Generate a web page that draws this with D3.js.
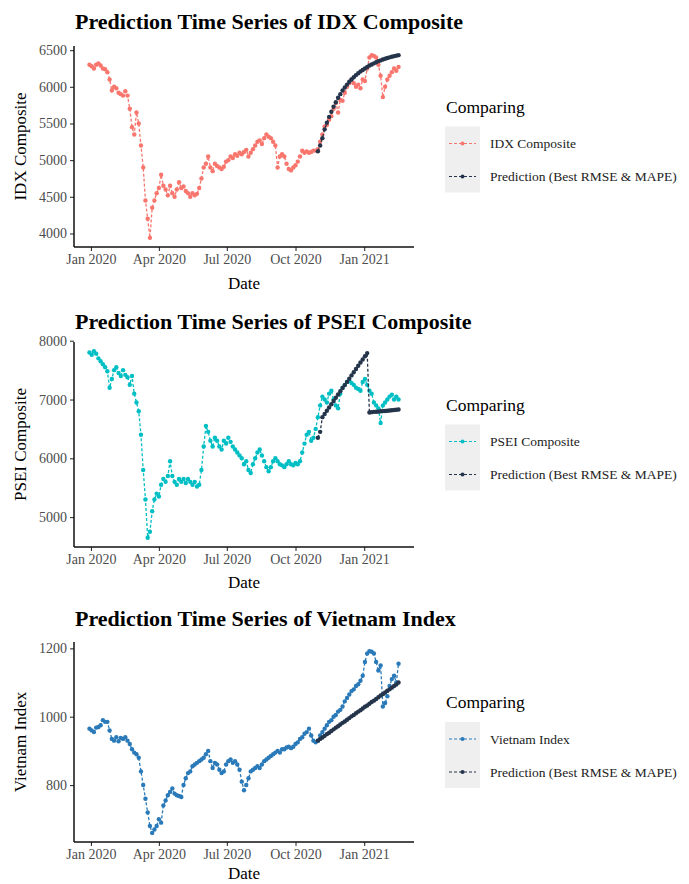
<!DOCTYPE html>
<html>
<head>
<meta charset="utf-8">
<script src="https://cdn.jsdelivr.net/npm/d3@7"></script>
<style>
  html, body { margin: 0; padding: 0; background: #fff; }
  svg { display: block; }
  text { font-family: "Liberation Serif", "DejaVu Serif", serif; }
</style>
</head>
<body>
<svg id="chart" width="689" height="884"></svg>
<script>
// ---------------- DATA ----------------
const dateStart = "2019-12-30";   // first observation
const dateStepDays = 3;           // spacing between plotted observations
const xTickDates = ["2020-01-01", "2020-04-01", "2020-07-01", "2020-10-01", "2021-01-01"];

const idxActual = [
  6300, 6280, 6250, 6300, 6320, 6290, 6250, 6240, 6200, 6100,
  5950, 6000, 5980, 5920, 5900, 5880, 5940, 5880, 5700, 5450,
  5350, 5650, 5500, 5200, 4900, 4450, 4200, 3940, 4350, 4450,
  4550, 4620, 4800, 4650, 4600, 4520, 4650, 4550, 4500, 4600,
  4700, 4620, 4640, 4580, 4550, 4500, 4550, 4520, 4540, 4620,
  4750, 4900, 4950, 5050, 4900, 4850, 4950, 4920, 4900, 4880,
  4910, 4980, 5000, 5050, 5030, 5080, 5060, 5100, 5080, 5110,
  5140, 5050, 5100, 5150, 5200, 5250, 5270, 5220, 5300, 5350,
  5320, 5300, 5250, 5200, 4900, 5050, 5080, 5050, 4950, 4880,
  4860, 4900, 4930, 4980, 5050, 5130, 5100, 5120, 5100, 5110,
  5130, 5130, 5150, 5250, 5350, 5460, 5480, 5550, 5600, 5700,
  5780, 5650, 5820, 5810, 5920, 6000, 6050, 6100, 6050, 6000,
  6030, 5980, 6100, 6080, 6250, 6400, 6430, 6420, 6400, 6300,
  6150, 5860, 6000, 6100, 6150, 6200, 6250, 6220, 6270
];
const idxPredStart = 102;
const idxPred = [
  5120, 5200, 5300, 5420, 5510, 5590, 5660, 5730, 5790, 5850,
  5900, 5950, 5990, 6030, 6070, 6100, 6130, 6160, 6185, 6210,
  6230, 6250, 6270, 6290, 6305, 6320, 6335, 6350, 6360, 6372,
  6383, 6393, 6402, 6410, 6418, 6425, 6432
];

const pseiActual = [
  7800, 7760, 7820, 7780, 7700, 7650, 7600, 7550, 7480, 7200,
  7350, 7500, 7550, 7450, 7400, 7500, 7420, 7380, 7250, 7400,
  7100, 6950, 6800, 6400, 5800, 5300, 4650, 4750, 5100, 5300,
  5400, 5350, 5550, 5650, 5600, 5700, 5950, 5700, 5600, 5550,
  5650, 5600, 5650, 5580, 5650, 5600, 5550, 5600, 5520, 5550,
  5800, 6200, 6550, 6450, 6300, 6200, 6350, 6300, 6200, 6150,
  6300, 6250, 6350, 6280, 6200, 6150, 6100, 6050, 6000, 5900,
  5950, 5800, 5750, 5900, 6000, 6100, 6150, 6050, 5950, 5850,
  5780, 5850, 5950, 6000, 5950, 5900, 5880, 5850, 5900, 5950,
  5900, 5880, 5920, 5900, 5950, 6100, 6250, 6400, 6450, 6300,
  6350, 6500, 6700, 6900, 7050, 7000, 6950, 7100, 7150, 7000,
  6900, 6850, 7100, 7200, 7250, 7300, 7320, 7280, 7250, 7200,
  7180, 7150, 7300, 7350, 7250, 7150, 7100, 6950, 6900, 6850,
  6600, 6900, 6950, 7000, 7050, 7080, 7000, 7050, 7000
];
const pseiPredStart = 102;
const pseiPred = [
  6350, 6450, 6700, 6755, 6810, 6865, 6920, 6975, 7030, 7085,
  7140, 7195, 7245, 7300, 7355, 7410, 7465, 7520, 7575, 7630,
  7680, 7735, 7790, 6780, 6785, 6790, 6792, 6795, 6800, 6803,
  6806, 6810, 6814, 6818, 6822, 6826, 6830
];

const vnActual = [
  965, 960, 955, 968, 970, 975, 990, 985, 985, 960,
  935, 930, 940, 928, 938, 935, 940, 930, 920, 905,
  895, 890, 880, 840, 800, 760, 720, 680, 660, 670,
  680, 700, 690, 740, 755, 770, 780, 790, 775, 770,
  768, 765, 800, 820, 835, 840, 855, 860, 865, 870,
  875, 880, 890, 900, 870, 850, 865, 860, 845, 835,
  840, 860, 870, 875, 865, 870, 860, 845, 810, 785,
  800, 820, 840, 845, 850, 855, 850, 860, 870, 875,
  880, 885, 890, 895, 900, 895, 905, 905, 910, 912,
  908, 912, 920, 925, 935, 940, 950, 955, 965, 945,
  930, 925, 930, 945, 955, 965, 975, 985, 990, 1000,
  1005, 1015, 1020, 1030, 1045, 1055, 1065, 1075, 1080, 1090,
  1095, 1105, 1120, 1160, 1185, 1192, 1190, 1185, 1160, 1135,
  1150, 1030, 1040, 1060, 1090, 1110, 1120, 1100, 1155
];
const vnPredStart = 102;
const vnPred = [
  930, 935, 939, 944, 949, 953, 958, 963, 968, 972,
  977, 982, 986, 991, 996, 1001, 1005, 1010, 1015, 1019,
  1024, 1029, 1033, 1038, 1043, 1047, 1052, 1057, 1062, 1066,
  1071, 1076, 1080, 1085, 1090, 1094, 1100
];

const yTicksIDX  = [4000, 4500, 5000, 5500, 6000, 6500];
const yTicksPSEI = [5000, 6000, 7000, 8000];
const yTicksVN   = [800, 1000, 1200];

const titles = [
  "Prediction Time Series of IDX Composite",
  "Prediction Time Series of PSEI Composite",
  "Prediction Time Series of Vietnam Index"
];
const yTitles = ["IDX Composite", "PSEI Composite", "Vietnam Index"];
const legendTitle = "Comparing";
const predLabel = "Prediction (Best RMSE & MAPE)";
const xTitle = "Date";

// ---------------- STYLE / LAYOUT ----------------
const predColor = "#24344a";
const panels = [
  { top: 46,  bottom: 247, actual: idxActual,  pred: idxPred,  predStart: idxPredStart,  ticks: yTicksIDX,  color: "#F8766D", titleY: 29,  xTitleOff: 42 },
  { top: 342, bottom: 547, actual: pseiActual, pred: pseiPred, predStart: pseiPredStart, ticks: yTicksPSEI, color: "#00BFC4", titleY: 329, xTitleOff: 41 },
  { top: 642, bottom: 842, actual: vnActual,   pred: vnPred,   predStart: vnPredStart,   ticks: yTicksVN,   color: "#2A7AB9", titleY: 626, xTitleOff: 37 }
];
const plotLeft = 74, plotRight = 414;

const parse = d3.timeParse("%Y-%m-%d");
const t0 = parse(dateStart);
const dates = d3.range(idxActual.length).map(i => d3.timeDay.offset(t0, i * dateStepDays));

const svg = d3.select("#chart");

function expand(ext, f = 0.05) {
  const span = ext[1] - ext[0];
  return [ext[0] - span * f, ext[1] + span * f];
}

const xDomain = expand(d3.extent(dates).map(d => +d)).map(v => new Date(v));
const x = d3.scaleTime().domain(xDomain).range([plotLeft, plotRight]);

panels.forEach((p, k) => {
  const g = svg.append("g");
  const actualPts = p.actual.map((v, i) => ({ d: dates[i], v }));
  const predPts = p.pred.map((v, i) => ({ d: dates[p.predStart + i], v }));
  const allVals = p.actual.concat(p.pred);
  const y = d3.scaleLinear().domain(expand(d3.extent(allVals))).range([p.bottom, p.top]);

  // title
  g.append("text").attr("x", plotLeft + 1).attr("y", p.titleY)
    .attr("font-size", 22).attr("font-weight", "bold").attr("fill", "#000")
    .text(titles[k]);

  // axes
  const xAxis = d3.axisBottom(x)
    .tickValues(xTickDates.map(parse))
    .tickFormat(d3.timeFormat("%b %Y"))
    .tickSizeOuter(0).tickSize(4).tickPadding(3);
  const gx = g.append("g").attr("transform", `translate(0,${p.bottom})`).call(xAxis);
  const yAxis = d3.axisLeft(y).tickValues(p.ticks).tickFormat(d3.format("d"))
    .tickSizeOuter(0).tickSize(4).tickPadding(3);
  const gy = g.append("g").attr("transform", `translate(${plotLeft},0)`).call(yAxis);
  [gx, gy].forEach(ax => {
    ax.select(".domain").remove();
    ax.selectAll(".tick line").attr("stroke", "#333").attr("stroke-width", 1.1);
    ax.selectAll(".tick text").attr("fill", "#4d4d4d").attr("font-size", 14)
      .attr("font-family", "Liberation Serif, serif");
  });
  // axis lines (theme_classic)
  g.append("line").attr("x1", plotLeft).attr("x2", plotRight)
    .attr("y1", p.bottom).attr("y2", p.bottom).attr("stroke", "#111").attr("stroke-width", 1.5);
  g.append("line").attr("x1", plotLeft).attr("x2", plotLeft)
    .attr("y1", p.top).attr("y2", p.bottom).attr("stroke", "#111").attr("stroke-width", 1.5);

  // axis titles
  g.append("text").attr("x", (plotLeft + plotRight) / 2).attr("y", p.bottom + p.xTitleOff)
    .attr("text-anchor", "middle").attr("font-size", 17).attr("fill", "#000").text(xTitle);
  g.append("text")
    .attr("transform", `translate(26,${(p.top + p.bottom) / 2}) rotate(-90)`)
    .attr("text-anchor", "middle").attr("font-size", 17).attr("fill", "#000").text(yTitles[k]);

  // series
  const line = d3.line().x(d => x(d.d)).y(d => y(d.v));
  const plotG = g.append("g");
  plotG.append("path").datum(actualPts).attr("d", line)
    .attr("fill", "none").attr("stroke", p.color).attr("stroke-width", 1.3)
    .attr("stroke-dasharray", "3,2");
  plotG.selectAll("circle.a").data(actualPts).join("circle").attr("class", "a")
    .attr("cx", d => x(d.d)).attr("cy", d => y(d.v)).attr("r", 2.2).attr("fill", p.color);
  plotG.append("path").datum(predPts).attr("d", line)
    .attr("fill", "none").attr("stroke", predColor).attr("stroke-width", 1.3)
    .attr("stroke-dasharray", "3,2");
  plotG.selectAll("circle.p").data(predPts).join("circle").attr("class", "p")
    .attr("cx", d => x(d.d)).attr("cy", d => y(d.v)).attr("r", 2.2).attr("fill", predColor);

  // legend
  const cy = (p.top + p.bottom) / 2;
  const lg = g.append("g");
  lg.append("text").attr("x", 446).attr("y", cy - 34).attr("font-size", 17.5).attr("fill", "#000")
    .text(legendTitle);
  lg.append("rect").attr("x", 445).attr("y", cy - 20).attr("width", 35).attr("height", 66)
    .attr("fill", "#efefef");
  const items = [
    { label: yTitles[k], color: p.color, yy: cy - 3 },
    { label: predLabel, color: predColor, yy: cy + 30 }
  ];
  items.forEach(it => {
    lg.append("line").attr("x1", 449).attr("x2", 476).attr("y1", it.yy).attr("y2", it.yy)
      .attr("stroke", it.color).attr("stroke-width", 1.2).attr("stroke-dasharray", "3,2");
    lg.append("circle").attr("cx", 462.5).attr("cy", it.yy).attr("r", 2).attr("fill", it.color);
    lg.append("text").attr("x", 490).attr("y", it.yy).attr("dy", "0.35em")
      .attr("font-size", 13.5).attr("fill", "#222").text(it.label);
  });
});
</script>
</body>
</html>
